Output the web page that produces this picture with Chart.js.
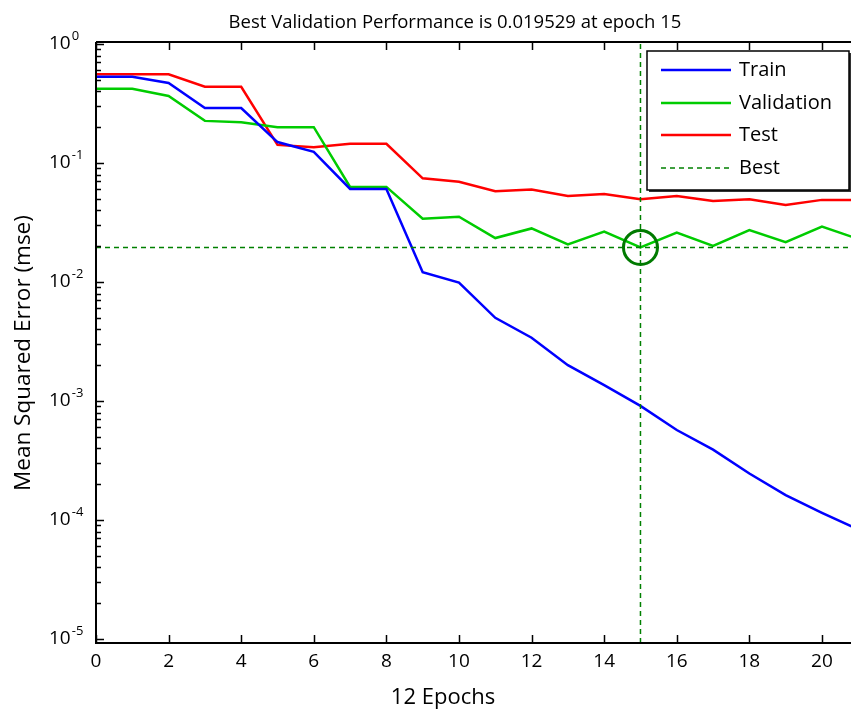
<!DOCTYPE html>
<html>
<head>
<meta charset="utf-8">
<title>Best Validation Performance</title>
<script src="https://cdn.jsdelivr.net/npm/chart.js@4.4.0/dist/chart.umd.min.js"></script>
<style>
  html, body { margin: 0; padding: 0; background: #fff; }
  #wrap { width: 851px; height: 711px; }
</style>
</head>
<body>
<div id="wrap"><canvas id="perfChart" width="851" height="711"></canvas></div>
<script>
// Training record (mse per epoch, log scale)
const epochs = [0, 1, 2, 3, 4, 5, 6, 7, 8, 9, 10, 11, 12, 13, 14, 15, 16, 17, 18, 19, 20, 21];
const trainErr = [0.53, 0.53, 0.47, 0.29, 0.29, 0.15, 0.124, 0.0605, 0.0605, 0.0121, 0.0099, 0.0050, 0.0034,
                  0.0020, 0.00136, 0.00091, 0.00057, 0.00039, 0.000246, 0.000162, 0.000115, 0.000083];
const validationErr = [0.42, 0.42, 0.366, 0.226, 0.22, 0.20, 0.20, 0.063, 0.063, 0.034, 0.0354, 0.0234, 0.0282,
                       0.0207, 0.0265, 0.019529, 0.026, 0.0201, 0.0273, 0.0216, 0.0292, 0.023];
const testErr = [0.556, 0.556, 0.556, 0.437, 0.437, 0.142, 0.136, 0.145, 0.145, 0.0743, 0.0697, 0.058, 0.060,
                 0.0528, 0.0549, 0.0495, 0.0528, 0.048, 0.0495, 0.0444, 0.049, 0.049];
const bestEpoch = 15;
const bestPerf = 0.019529;

// axis ranges and tick labels
const xRange = [0, 20.8];
const yRange = [0.925e-5, 1.04];
const xTicks = [0, 2, 4, 6, 8, 10, 12, 14, 16, 18, 20];
const yDecades = [0, -1, -2, -3, -4, -5];

const titleText = 'Best Validation Performance is ' + bestPerf + ' at epoch ' + bestEpoch;
const xLabel = '12 Epochs';
const yLabel = 'Mean Squared Error (mse)';
const FONT = '"Open Sans", "DejaVu Sans", sans-serif';

function toPoints(values) {
    return values.map((v, i) => ({ x: epochs[i], y: v }));
}

// draws the MATLAB style box, ticks, labels and legend
const matlabAxes = {
    id: 'matlabAxes',
    afterDraw(chart) {
        const ctx = chart.ctx;
        const area = chart.chartArea;
        const xs = chart.scales.x;
        const ys = chart.scales.y;
        ctx.save();

        // axis lines
        ctx.strokeStyle = '#000';
        ctx.lineWidth = 2;
        ctx.beginPath();
        ctx.moveTo(area.left, area.top);
        ctx.lineTo(area.right, area.top);
        ctx.moveTo(area.left, area.top);
        ctx.lineTo(area.left, area.bottom);
        ctx.lineTo(area.right, area.bottom);
        ctx.stroke();

        // x ticks, bottom and top, pointing inward
        ctx.lineWidth = 1.5;
        ctx.beginPath();
        xTicks.forEach(v => {
            const px = Math.round(xs.getPixelForValue(v)) + 0.5;
            ctx.moveTo(px, area.bottom);
            ctx.lineTo(px, area.bottom - 8);
            ctx.moveTo(px, area.top);
            ctx.lineTo(px, area.top + 8);
        });
        // y ticks, major and minor
        yDecades.forEach(d => {
            for (let m = 1; m <= 9; m++) {
                const v = m * Math.pow(10, d);
                if (v < yRange[0] || v > yRange[1]) continue;
                const py = Math.round(ys.getPixelForValue(v)) + 0.5;
                ctx.moveTo(area.left, py);
                ctx.lineTo(area.left + (m === 1 ? 8 : 5), py);
            }
        });
        ctx.stroke();

        ctx.fillStyle = '#000';
        ctx.textBaseline = 'middle';

        // x tick labels
        ctx.font = '19px ' + FONT;
        ctx.textAlign = 'center';
        xTicks.forEach(v => {
            ctx.fillText(String(v), xs.getPixelForValue(v), 662);
        });

        // y tick labels with superscript exponent
        ctx.textAlign = 'left';
        yDecades.forEach(d => {
            const py = ys.getPixelForValue(Math.pow(10, d));
            ctx.font = '19px ' + FONT;
            ctx.fillText('10', 49, py);
            const w = ctx.measureText('10').width;
            ctx.font = '13px ' + FONT;
            ctx.fillText(d === 0 ? '0' : '-' + Math.abs(d), 49 + w + 1, py - 8);
        });

        // title and axis labels
        ctx.textAlign = 'center';
        ctx.font = '18.5px ' + FONT;
        ctx.fillText(titleText, 455, 23);
        ctx.font = '22px ' + FONT;
        ctx.fillText(xLabel, 443, 698);
        ctx.save();
        ctx.translate(24, 353);
        ctx.rotate(-Math.PI / 2);
        ctx.font = '22.5px ' + FONT;
        ctx.fillText(yLabel, 0, 0);
        ctx.restore();

        // legend
        const box = { left: 647, top: 51, right: 849, bottom: 190 };
        ctx.fillStyle = '#fff';
        ctx.fillRect(box.left, box.top, box.right - box.left, box.bottom - box.top);
        ctx.strokeStyle = '#333';
        ctx.lineWidth = 2;
        ctx.beginPath();
        ctx.moveTo(box.left + 2, box.bottom + 1);
        ctx.lineTo(box.right + 1, box.bottom + 1);
        ctx.lineTo(box.right + 1, box.top + 2);
        ctx.stroke();
        ctx.strokeStyle = '#000';
        ctx.lineWidth = 1.5;
        ctx.strokeRect(box.left, box.top, box.right - box.left, box.bottom - box.top);
        const rows = [70, 103, 135, 168];
        const legendSets = chart.data.datasets.filter(ds => ds.inLegend);
        ctx.font = '20px ' + FONT;
        ctx.textAlign = 'left';
        legendSets.forEach((ds, i) => {
            const y = rows[i];
            ctx.strokeStyle = ds.borderColor;
            ctx.lineWidth = ds.borderWidth;
            ctx.setLineDash(ds.borderDash || []);
            ctx.beginPath();
            ctx.moveTo(661, y);
            ctx.lineTo(731, y);
            ctx.stroke();
            ctx.setLineDash([]);
            ctx.fillStyle = '#000';
            ctx.fillText(ds.label, 739, y);
        });
        ctx.restore();
    }
};

const ctx = document.getElementById('perfChart').getContext('2d');
const perfChart = new Chart(ctx, {
    type: 'line',
    data: {
        datasets: [
            {
                label: 'Train', inLegend: true, data: toPoints(trainErr),
                borderColor: '#0000ff', borderWidth: 2.5, pointRadius: 0, order: 3
            },
            {
                label: 'Validation', inLegend: true, data: toPoints(validationErr),
                borderColor: '#00cc00', borderWidth: 2.5, pointRadius: 0, order: 4
            },
            {
                label: 'Test', inLegend: true, data: toPoints(testErr),
                borderColor: '#ff0000', borderWidth: 2.5, pointRadius: 0, order: 5
            },
            {
                label: 'Best', inLegend: true,
                data: [{ x: xRange[0], y: bestPerf }, { x: xRange[1], y: bestPerf }],
                borderColor: '#008000', borderWidth: 1.5, borderDash: [5, 4], pointRadius: 0, order: 1
            },
            {
                label: 'Best epoch',
                data: [{ x: bestEpoch, y: yRange[0] }, { x: bestEpoch, y: yRange[1] }],
                borderColor: '#008000', borderWidth: 1.5, borderDash: [5, 4], pointRadius: 0, order: 1
            },
            {
                label: 'Best point',
                data: [{ x: bestEpoch, y: bestPerf }],
                showLine: false, pointRadius: 17, pointBorderWidth: 3,
                pointBorderColor: '#007a00', pointBackgroundColor: 'rgba(0,0,0,0)', order: 0
            }
        ]
    },
    options: {
        responsive: false,
        animation: false,
        events: [],
        layout: { autoPadding: false, padding: { top: 42, left: 0, right: 0, bottom: 0 } },
        plugins: {
            legend: { display: false },
            title: { display: false },
            tooltip: { enabled: false }
        },
        scales: {
            x: {
                type: 'linear',
                min: xRange[0],
                max: xRange[1],
                grid: { display: false, drawTicks: false },
                border: { display: false },
                ticks: { display: false },
                afterFit: scale => { scale.height = 68; }
            },
            y: {
                type: 'logarithmic',
                min: yRange[0],
                max: yRange[1],
                grid: { display: false, drawTicks: false },
                border: { display: false },
                ticks: { display: false },
                afterFit: scale => { scale.width = 96; }
            }
        }
    },
    plugins: [matlabAxes]
});
</script>
</body>
</html>
